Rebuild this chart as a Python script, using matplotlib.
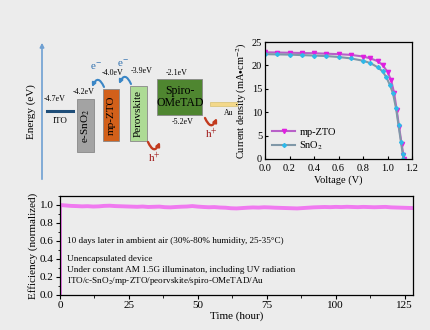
import matplotlib
matplotlib.use('Agg')
import matplotlib.pyplot as plt
from matplotlib.patches import Rectangle, FancyArrowPatch
from matplotlib.ticker import MultipleLocator

plt.rcParams['font.family'] = ['Liberation Serif', 'DejaVu Serif']
plt.rcParams['mathtext.fontset'] = 'stix'
plt.rcParams['font.size'] = 7.5

BG = '#ececec'

# --- J-V data ---
v_zto = [0.0, 0.1, 0.2, 0.3, 0.4, 0.5, 0.6, 0.7, 0.8, 0.86, 0.92, 0.96,
         1.0, 1.03, 1.055, 1.075, 1.095, 1.115, 1.13, 1.135]
j_zto = [22.8, 22.75, 22.7, 22.65, 22.6, 22.5, 22.4, 22.25, 21.9, 21.5,
         20.9, 20.1, 18.6, 16.8, 14.0, 10.5, 6.8, 3.3, 0.8, 0.0]
v_sno2 = [0.0, 0.1, 0.2, 0.3, 0.4, 0.5, 0.6, 0.7, 0.8, 0.86, 0.92, 0.96,
          0.99, 1.02, 1.045, 1.07, 1.09, 1.11, 1.125, 1.13]
j_sno2 = [22.4, 22.35, 22.3, 22.2, 22.1, 22.0, 21.8, 21.5, 21.0, 20.5,
          19.6, 18.7, 17.5, 15.8, 14.0, 10.8, 7.2, 3.6, 1.0, 0.0]

# --- stability data (every 2 h) ---
hours = [0] + list(range(0, 130, 2))
efficiency = [0.0,
              1.000, 0.995, 0.990, 0.988, 0.985, 0.987, 0.983, 0.985, 0.990, 0.992,
              0.988, 0.986, 0.984, 0.982, 0.980, 0.983, 0.978, 0.980, 0.982, 0.976,
              0.974, 0.978, 0.981, 0.983, 0.988, 0.982, 0.978, 0.975, 0.977, 0.972,
              0.970, 0.964, 0.962, 0.966, 0.970, 0.973, 0.971, 0.975, 0.973, 0.970,
              0.968, 0.966, 0.964, 0.962, 0.966, 0.970, 0.974, 0.976, 0.978, 0.976,
              0.979, 0.977, 0.980, 0.978, 0.976, 0.979, 0.977, 0.975, 0.977, 0.979,
              0.974, 0.972, 0.970, 0.968, 0.966]

notes = ['10 days later in ambient air (30%-80% humidity, 25-35°C)',
         'Unencapsulated device',
         'Under constant AM 1.5G illuminaton, including UV radiation',
         'ITO/c-SnO$_2$/mp-ZTO/peorvskite/spiro-OMeTAD/Au']

# --- energy diagram layers ---
layers = ['e-SnO$_2$', 'mp-ZTO', 'Perovskite']
layer_colors = ['#a3a3a3', '#d2601a', '#addb95']
layer_boxes = [(77, 99, 17, 53), (103, 89, 16, 52), (130, 86, 17, 55)]
level_labels = ['-4.7eV', '-4.2eV', '-4.0eV', '-3.9eV', '-2.1eV', '-5.2eV']
level_pos = [(55, 99), (84, 92), (113, 73), (142, 71), (177, 73), (183, 122)]

fig = plt.figure(figsize=(4.3, 3.3), dpi=100)
fig.patch.set_facecolor(BG)

# energy level schematic, pixel-like coordinates
ax0 = fig.add_axes([0, 1 - 190 / 330, 240 / 430, 190 / 330])
ax0.set_xlim(0, 240)
ax0.set_ylim(190, 0)
ax0.axis('off')
ax0.annotate('', xy=(42, 40), xytext=(42, 182),
             arrowprops=dict(arrowstyle='-|>', color='#6fa0d2', lw=1.2,
                             mutation_scale=6))
ax0.text(31, 112, 'Energy (eV)', rotation=90, ha='center', va='center', fontsize=8)
ax0.plot([47, 73], [111, 111], color='#1f4e79', lw=2.2)
ax0.text(60, 121, 'ITO', ha='center', va='center', fontsize=6.5)
for name, col, (x, y, w, h) in zip(layers, layer_colors, layer_boxes):
    ax0.add_patch(Rectangle((x, y), w, h, facecolor=col, edgecolor='#888888', lw=0.6))
    ax0.text(x + w / 2, y + h / 2, name, rotation=90, ha='center', va='center',
             fontsize=8)
ax0.add_patch(Rectangle((157, 79), 45, 36, facecolor='#4f8630',
                        edgecolor='#888888', lw=0.6))
ax0.text(180, 97, 'Spiro-\nOMeTAD', ha='center', va='center', fontsize=8.5,
         linespacing=1.0)
ax0.add_patch(Rectangle((210, 102), 27, 4, facecolor='#f3d88a',
                        edgecolor='#d8c070', lw=0.5))
ax0.text(229, 113, 'Au', ha='center', va='center', fontsize=5.5)
for lab, (x, y) in zip(level_labels, level_pos):
    ax0.text(x, y, lab, ha='center', va='center', fontsize=5.8)

# electron / hole transfer arrows
for cx, cy in [(98, 87), (125, 84)]:
    ax0.add_patch(FancyArrowPatch((cx + 6, cy), (cx - 6, cy),
                                  connectionstyle='arc3,rad=1.1',
                                  arrowstyle='-|>', mutation_scale=5,
                                  shrinkA=0, shrinkB=0,
                                  color='#3a86c6', lw=1.5))
    ax0.text(cx - 2, cy - 20, 'e$^{-}$', color='#2f6fae', ha='center',
             va='center', fontsize=8)
for cx, cy in [(154, 142), (211, 118)]:
    ax0.add_patch(FancyArrowPatch((cx - 6, cy), (cx + 6, cy),
                                  connectionstyle='arc3,rad=1.1',
                                  arrowstyle='-|>', mutation_scale=5,
                                  shrinkA=0, shrinkB=0,
                                  color='#c23a1e', lw=1.7))
    ax0.text(cx, cy + 16, 'h$^{+}$', color='#a01818', ha='center', va='center',
             fontsize=8)

# J-V curves
ax1 = fig.add_axes([265 / 430, 1 - 159 / 330, 147 / 430, 117 / 330])
ax1.set_facecolor(BG)
ax1.plot(v_zto, j_zto, color='#b860c8', lw=1.5, marker='v', ms=3,
         mfc='#e020e0', mec='#e020e0', label='mp-ZTO')
ax1.plot(v_sno2, j_sno2, color='#8098a8', lw=1.5, marker='D', ms=2,
         mfc='#30b8e8', mec='#30b8e8', label='SnO$_2$')
ax1.set_xlim(0, 1.2)
ax1.set_ylim(0, 25)
ax1.xaxis.set_major_locator(MultipleLocator(0.2))
ax1.yaxis.set_major_locator(MultipleLocator(5))
ax1.set_xlabel('Voltage (V)', fontsize=7.5, labelpad=2)
ax1.set_ylabel('Current density (mA$\\bullet$cm$^{-2}$)', fontsize=7.5, labelpad=2)
ax1.tick_params(direction='in', length=2.5, width=0.8, labelsize=7.5)
ax1.tick_params(axis='x', pad=3.5)
ax1.tick_params(axis='y', pad=2)
for s in ax1.spines.values():
    s.set_linewidth(0.9)
ax1.legend(loc='lower left', frameon=False, fontsize=7.5, handlelength=2.2,
           handletextpad=0.4, labelspacing=0.2, borderaxespad=0.3)

# stability
ax2 = fig.add_axes([60 / 430, 1 - 295 / 330, 353 / 430, 99 / 330])
ax2.set_facecolor(BG)
ax2.plot(hours, efficiency, color='#f07af0', lw=2.8, solid_joinstyle='round')
ax2.set_xlim(0, 128)
ax2.set_ylim(0, 1.1)
ax2.xaxis.set_major_locator(MultipleLocator(25))
ax2.xaxis.set_minor_locator(MultipleLocator(12.5))
ax2.yaxis.set_major_locator(MultipleLocator(0.2))
ax2.yaxis.set_minor_locator(MultipleLocator(0.1))
ax2.tick_params(which='major', direction='out', length=3, width=0.8, pad=1.5,
                labelsize=8)
ax2.tick_params(which='minor', direction='out', length=1.8, width=0.6)
ax2.set_xlabel('Time (hour)', fontsize=8, labelpad=1)
ax2.set_ylabel('Efficiency (normalized)', fontsize=8, labelpad=1)
for s in ax2.spines.values():
    s.set_linewidth(0.9)
for note, y in zip(notes, [0.6, 0.4, 0.275, 0.155]):
    ax2.text(2.5, y, note, fontsize=6.6, va='center')

fig.savefig('out.png', dpi=100, facecolor=BG)
